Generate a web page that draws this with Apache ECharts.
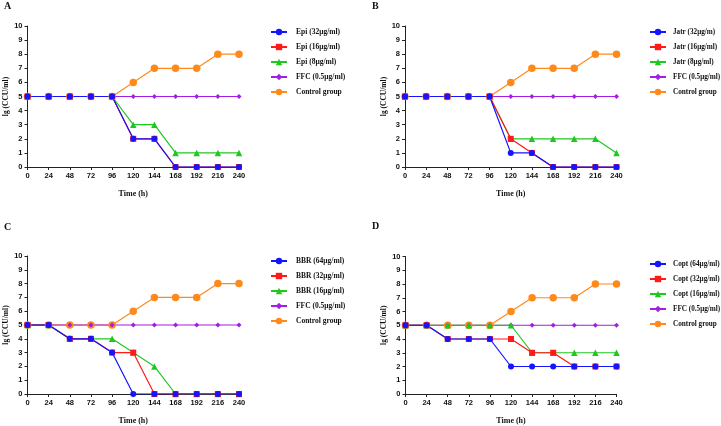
<!DOCTYPE html>
<html><head><meta charset="utf-8">
<script src="https://cdn.jsdelivr.net/npm/echarts@6/dist/echarts.min.js"></script>
<style>html,body{margin:0;padding:0;background:#fff}#c{width:721px;height:426px}</style>
</head><body><div id="c"></div>
<script>
const times = [0,24,48,72,96,120,144,168,192,216,240];
const yTicks = [0,1,2,3,4,5,6,7,8,9,10];

const aNames = ['Epi (32μg/ml)','Epi (16μg/ml)','Epi (8μg/ml)','FFC (0.5μg/ml)','Control group'];
const aHigh = [5,5,5,5,5,2,2,0,0,0,0];
const aMid  = [5,5,5,5,5,2,2,0,0,0,0];
const aLow  = [5,5,5,5,5,3,3,1,1,1,1];

const bNames = ['Jatr (32μg/m)','Jatr (16μg/ml)','Jatr (8μg/ml)','FFC (0.5μg/ml)','Control group'];
const bHigh = [5,5,5,5,5,1,1,0,0,0,0];
const bMid  = [5,5,5,5,5,2,1,0,0,0,0];
const bLow  = [5,5,5,5,5,2,2,2,2,2,1];

const cNames = ['BBR (64μg/ml)','BBR (32μg/ml)','BBR (16μg/ml)','FFC (0.5μg/ml)','Control group'];
const cHigh = [5,5,4,4,3,0,0,0,0,0,0];
const cMid  = [5,5,4,4,3,3,0,0,0,0,0];
const cLow  = [5,5,4,4,4,3,2,0,0,0,0];

const dNames = ['Copt (64μg/ml)','Copt (32μg/ml)','Copt (16μg/ml)','FFC (0.5μg/ml)','Control group'];
const dHigh = [5,5,4,4,4,2,2,2,2,2,2];
const dMid  = [5,5,4,4,4,4,3,3,2,2,2];
const dLow  = [5,5,5,5,5,5,3,3,3,3,3];

const ffc     = [5,5,5,5,5,5,5,5,5,5,5];
const control = [5,5,5,5,5,6,7,7,7,8,8];

const panelLetters = ['A','B','C','D'];

const panels = [
  {names:aNames, high:aHigh, mid:aMid, low:aLow},
  {names:bNames, high:bHigh, mid:bMid, low:bLow},
  {names:cNames, high:cHigh, mid:cMid, low:cLow},
  {names:dNames, high:dHigh, mid:dMid, low:dLow}
];

const layout = [
  {grid:{left:27.5, top:26, width:211.5, height:141}, legend:{left:270, top:28, pad:4, fs:7.5}, letter:[4,1]},
  {grid:{left:405, top:26, width:211.5, height:141}, legend:{left:649, top:28, pad:2, fs:7.2}, letter:[372,1]},
  {grid:{left:27.5, top:256, width:211.5, height:141}, legend:{left:270, top:257, pad:4, fs:7.5}, letter:[4,222]},
  {grid:{left:405.5, top:256.5, width:211, height:140.5}, legend:{left:649, top:260, pad:2, fs:7.2}, letter:[372,221]}
];

const colors = {blue:'#1414ff', red:'#ff1a1a', green:'#1fc81f', purple:'#a21ee6', orange:'#ff8a1c'};

const grids=[], xAxes=[], yAxes=[], series=[], legends=[], graphics=[];
const axisFont = {fontFamily:'Liberation Sans, Arial', fontWeight:'bold', fontSize:7.5, color:'#111'};
const serifFont = 'Liberation Serif, Times New Roman';

panels.forEach((p,i)=>{
  const L = layout[i];
  grids.push(Object.assign({containLabel:false}, L.grid));
  xAxes.push({type:'value', gridIndex:i, min:0, max:240, interval:24,
    name:'Time (h)', nameLocation:'middle', nameGap:23,
    nameTextStyle:{fontFamily:serifFont, fontWeight:'bold', fontSize:8, color:'#111'},
    axisLine:{lineStyle:{color:'#222', width:1}},
    axisTick:{show:true, length:3, lineStyle:{color:'#222'}},
    axisLabel:Object.assign({margin:5, showMinLabel:true, showMaxLabel:true}, axisFont),
    splitLine:{show:false}});
  yAxes.push({type:'value', gridIndex:i, min:0, max:10, interval:1,
    name:'lg (CCU/ml)', nameLocation:'middle', nameGap:14,
    nameTextStyle:{fontFamily:serifFont, fontWeight:'bold', fontSize:7.5, color:'#111'},
    axisLine:{show:true, lineStyle:{color:'#222', width:1}},
    axisTick:{show:true, length:3, lineStyle:{color:'#222'}},
    axisLabel:Object.assign({margin:5, formatter:(v)=>String(v)}, axisFont),
    splitLine:{show:false}});
  const mk = (vals)=>times.map((t,k)=>[t, vals[k]]);
  const defs = [
    {name:p.names[4], data:control, color:colors.orange, symbol:'circle', size:7.5},
    {name:p.names[3], data:ffc, color:colors.purple, symbol:'diamond', size:5},
    {name:p.names[2], data:p.low, color:colors.green, symbol:'triangle', size:6.5},
    {name:p.names[1], data:p.mid, color:colors.red, symbol:'rect', size:6},
    {name:p.names[0], data:p.high, color:colors.blue, symbol:'circle', size:6}
  ];
  defs.forEach(d=>{
    series.push({type:'line', name:d.name, xAxisIndex:i, yAxisIndex:i,
      data:mk(d.data), symbol:d.symbol, symbolSize:d.size, showSymbol:true,
      color:d.color, lineStyle:{color:d.color, width:1.2},
      itemStyle:{color:d.color}, animation:false, emphasis:{disabled:true}});
  });
  legends.push({orient:'vertical', left:L.legend.left, top:L.legend.top, padding:0,
    data:p.names, itemWidth:16, itemHeight:8, itemGap:7,
    selectedMode:false,
    textStyle:{fontFamily:serifFont, fontWeight:'bold', fontSize:L.legend.fs, lineHeight:8, color:'#111', padding:[0,0,0,L.legend.pad]}});
  graphics.push({type:'text', left:L.letter[0], top:L.letter[1],
    style:{text:panelLetters[i], font:'bold 10px "Liberation Serif"', fill:'#111'}});
});

const chart = echarts.init(document.getElementById('c'), null, {renderer:'canvas'});
chart.setOption({backgroundColor:'#fff', animation:false,
  grid:grids, xAxis:xAxes, yAxis:yAxes, series:series, legend:legends, graphic:graphics});
</script></body></html>
